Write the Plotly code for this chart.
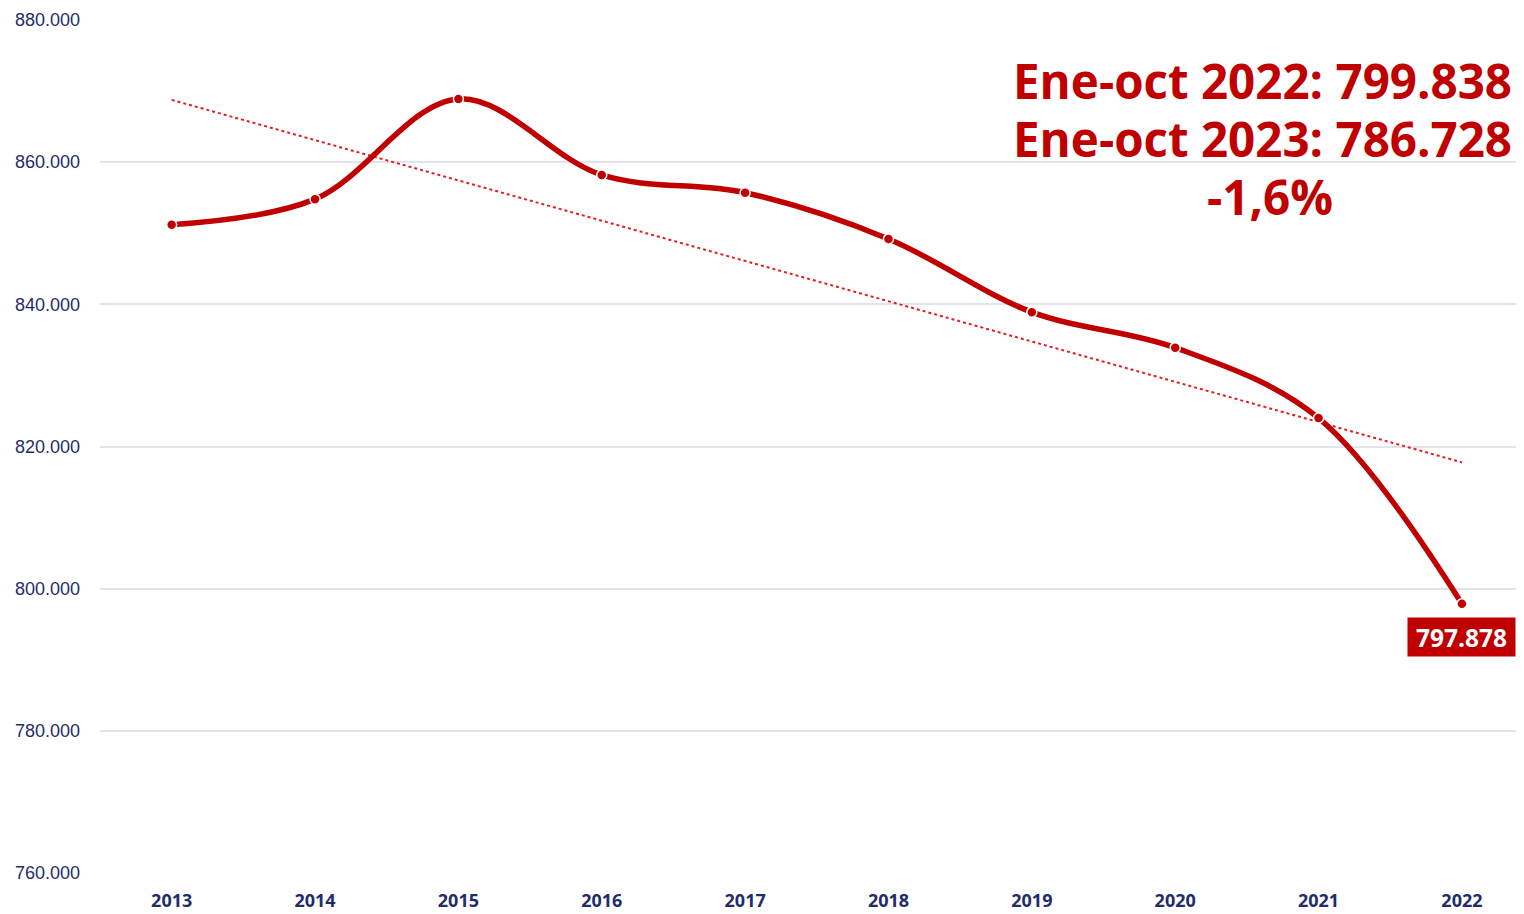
import numpy as np
import plotly.graph_objects as go

years = ["2013", "2014", "2015", "2016", "2017", "2018", "2019", "2020", "2021", "2022"]
values = [851200, 854800, 868900, 858200, 855700, 849200, 838900, 833900, 824000, 797878]
y_ticks = [760000, 780000, 800000, 820000, 840000, 860000, 880000]
last_label = "797.878"
note_lines = ["Ene-oct 2022: 799.838", "Ene-oct 2023: 786.728", "-1,6%"]

RED = "#C00000"
NAVY = "#1F2D6B"

# page body has 8px margin; compensate
OFF = 8
W, H = 1524 - OFF, 914 - OFF
ML, MT, MB = 100 - OFF, 20 - OFF, 41
PLOT_H = H - MT - MB  # 853
PLOT_W = W - ML


def px_x(xp):
    return (xp - 100) / PLOT_W


def px_y(yp):
    return (873 - yp) / PLOT_H


idx = np.arange(len(values))
slope, intercept = np.polyfit(idx, values, 1)
trend = slope * idx + intercept

fig = go.Figure()
fig.add_trace(go.Scatter(
    x=years, y=trend, mode="lines",
    line=dict(color="#E02020", width=2, dash="dot"),
    hoverinfo="skip", showlegend=False,
))
fig.add_trace(go.Scatter(
    x=years, y=values, mode="lines+markers",
    line=dict(color=RED, width=5.5, shape="spline", smoothing=1.0),
    marker=dict(color=RED, size=10, line=dict(color="white", width=1.5)),
    showlegend=False,
))

fig.add_annotation(
    x=len(years) - 1, y=values[-1], xref="x", yref="y",
    text="<b>" + last_label + "</b>", showarrow=False,
    yshift=-33, font=dict(family="Open Sans", size=24.5, color="white"),
    bgcolor=RED, borderpad=3, width=101, height=32,
)
for txt, yp, xp, anchor in [
    (note_lines[0], 80, 1514, "right"),
    (note_lines[1], 138, 1514, "right"),
    (note_lines[2], 196, 1270, "center"),
]:
    fig.add_annotation(
        xref="paper", yref="paper", x=px_x(xp), y=px_y(yp),
        xanchor=anchor, yanchor="middle",
        text="<b>" + txt + "</b>", showarrow=False, height=54,
        font=dict(family="Open Sans", size=47.5, color=RED),
    )

fig.update_layout(
    width=W, height=H,
    margin=dict(l=ML, r=0, t=MT, b=MB),
    paper_bgcolor="white", plot_bgcolor="white",
    separators=",.",
    xaxis=dict(
        type="category", range=[-0.5, 9.433],
        showgrid=False, zeroline=False, showline=False,
        tickfont=dict(family="Open Sans", size=18, color=NAVY, weight="bold"),
        ticks="", ticklabelstandoff=15,
    ),
    yaxis=dict(
        range=[760000, 880000], tickvals=y_ticks, tickformat=",d",
        showgrid=True, gridcolor="#E1E4EE", gridwidth=2,
        zeroline=False, showline=False, ticks="",
        tickfont=dict(family="Liberation Sans", size=18, color=NAVY),
        ticklabelstandoff=19,
    ),
)

fig.write_html("out.html")
